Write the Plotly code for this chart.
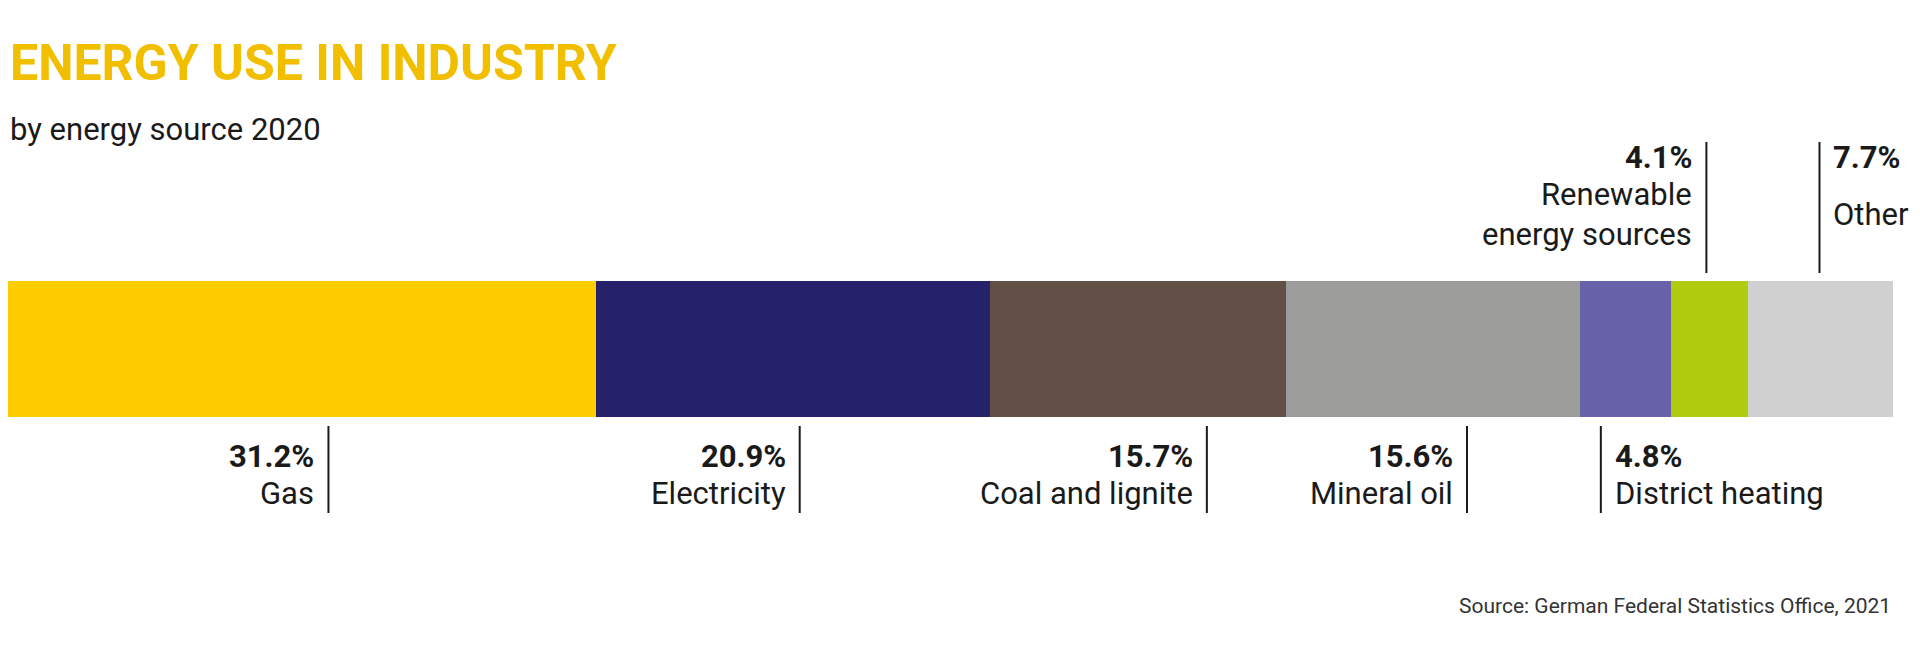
import plotly.graph_objects as go

W, H = 1920, 663
OFF = 7  # page body margin compensation (px)

sources = ["Gas", "Electricity", "Coal and lignite", "Mineral oil",
           "District heating", "Renewable<br>energy sources", "Other"]
shares = [31.2, 20.9, 15.7, 15.6, 4.8, 4.1, 7.7]
colors = ["#FFCC00", "#25216A", "#624F45", "#9D9D9C", "#6762AA", "#B1CB0E", "#D0D0D0"]
# leader line position (x axis units), side of text, top/bottom
line_x = [17.0, 42.0, 63.6, 77.4, 84.5, 90.1, 96.1]
text_side = ["left", "left", "left", "left", "right", "left", "right"]
placement = ["bottom", "bottom", "bottom", "bottom", "bottom", "top", "top"]

def py(px):  # pixel from top -> paper fraction
    return 1 - (px - OFF) / H

fig = go.Figure()
for name, val, col in zip(sources, shares, colors):
    fig.add_trace(go.Bar(x=[val], y=[0], orientation="h", marker_color=col,
                         marker_line_width=0, width=1, showlegend=False,
                         hoverinfo="skip"))

font = "Roboto, Open Sans, sans-serif"
shapes, annots = [], []
for name, val, lx, side, pl in zip(sources, shares, line_x, text_side, placement):
    if pl == "bottom":
        y0, y1, yp, yl = 425, 512, 455, 493
    else:
        y0, y1, yp, yl = 141, 272, 157, 213
    shapes.append(dict(type="line", xref="x", yref="paper", x0=lx, x1=lx,
                       y0=py(y0), y1=py(y1), line=dict(color="#1a1a1a", width=2)))
    anchor = "right" if side == "left" else "left"
    shift = -12 if side == "left" else 12
    annots.append(dict(xref="x", yref="paper", x=lx, y=py(yp), xshift=shift,
                       text=f"<b>{val}%</b>", showarrow=False, xanchor=anchor,
                       yanchor="middle", align=anchor,
                       font=dict(family=font, size=31, color="#1a1a1a")))
    annots.append(dict(xref="x", yref="paper", x=lx, y=py(yl), xshift=shift,
                       text=name, showarrow=False, xanchor=anchor,
                       yanchor="middle", align=anchor,
                       font=dict(family=font, size=31, color="#1a1a1a")))

annots += [
    dict(xref="paper", yref="paper", x=0, y=py(62), text="<b>ENERGY USE IN INDUSTRY</b>",
         showarrow=False, xanchor="left", yanchor="middle",
         font=dict(family=font, size=50, color="#F2BE00")),
    dict(xref="paper", yref="paper", x=0, y=py(128), text="by energy source 2020",
         showarrow=False, xanchor="left", yanchor="middle",
         font=dict(family=font, size=31, color="#1a1a1a")),
    dict(xref="paper", yref="paper", x=(1892 - OFF) / W, y=py(605),
         text="Source: German Federal Statistics Office, 2021",
         showarrow=False, xanchor="right", yanchor="middle",
         font=dict(family=font, size=21, color="#333333")),
]

fig.update_layout(
    barmode="stack", width=W, height=H,
    margin=dict(l=0, r=0, t=0, b=0),
    paper_bgcolor="white", plot_bgcolor="white",
    xaxis=dict(range=[0, 100], domain=[0, (1892 - OFF) / W], visible=False, fixedrange=True),
    yaxis=dict(range=[-0.5, 0.5], domain=[py(416), py(280)], visible=False, fixedrange=True),
    shapes=shapes, annotations=annots,
)

fig.write_html("out.html")
